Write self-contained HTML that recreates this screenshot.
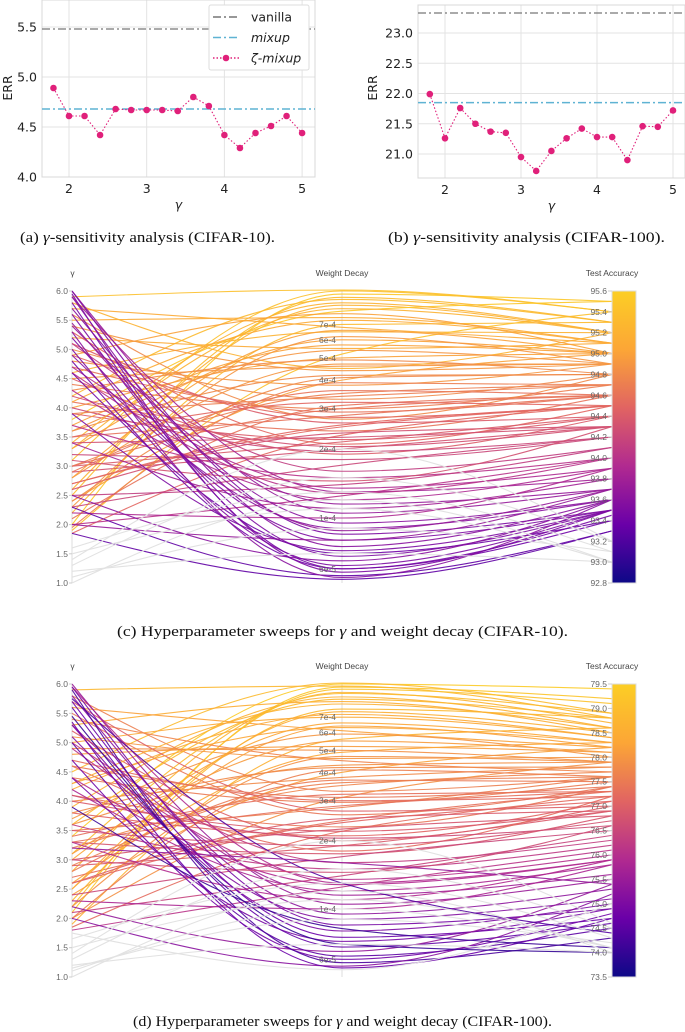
<!DOCTYPE html>
<html><head><meta charset="utf-8"><style>
body{margin:0;background:#fff;}
svg{display:block;}
.tk{font-family:"DejaVu Sans",sans-serif;font-size:12.5px;fill:#222;}
.cap{font-family:"Liberation Serif",serif;font-size:14.5px;fill:#111;}
.pl{font-family:"Liberation Sans",sans-serif;font-size:8.5px;fill:#666;}
.pt{font-family:"Liberation Sans",sans-serif;font-size:8.5px;fill:#444;}
</style></head><body>
<svg id="fig" width="685" height="1032" viewBox="0 0 685 1032" xmlns="http://www.w3.org/2000/svg">
<text class="cap" x="20" y="242" textLength="255" lengthAdjust="spacingAndGlyphs">(a) <tspan font-style="italic">γ</tspan>-sensitivity analysis (CIFAR-10).</text>
<text class="cap" x="388" y="242" textLength="277" lengthAdjust="spacingAndGlyphs">(b) <tspan font-style="italic">γ</tspan>-sensitivity analysis (CIFAR-100).</text>
<text class="cap" x="117" y="636" textLength="451" lengthAdjust="spacingAndGlyphs">(c) Hyperparameter sweeps for <tspan font-style="italic">γ</tspan> and weight decay (CIFAR-10).</text>
<text class="cap" x="133" y="1026" textLength="419" lengthAdjust="spacingAndGlyphs">(d) Hyperparameter sweeps for <tspan font-style="italic">γ</tspan> and weight decay (CIFAR-100).</text>
</svg>
<script>
// ---------- data: top charts ----------
const gammas=[1.8,2.0,2.2,2.4,2.6,2.8,3.0,3.2,3.4,3.6,3.8,4.0,4.2,4.4,4.6,4.8,5.0];
const errA=[4.89,4.61,4.61,4.42,4.68,4.67,4.67,4.67,4.66,4.80,4.71,4.42,4.29,4.44,4.51,4.61,4.44];
const vanillaA=5.48, mixupA=4.68;
const yTicksA=[4.0,4.5,5.0,5.5];
const errB=[21.99,21.26,21.76,21.50,21.37,21.35,20.95,20.72,21.05,21.26,21.42,21.28,21.28,20.90,21.46,21.45,21.72];
const vanillaB=23.33, mixupB=21.85;
const yTicksB=[21.0,21.5,22.0,22.5,23.0];
const xTicks=[2,3,4,5];

// ---------- data: parallel coords (c) [gamma, weight decay x1e-4, accuracy] ----------
const gammaC=[2.0,3.1,4.2,5.9,2.6,3.8,5.5,2.2,4.6,3.3,5.2,1.9,4.0,2.8,5.8,3.6,2.4,4.8,3.0,5.0,2.1,4.4,3.5,5.6,2.7,4.1,1.85,3.9,5.3,2.9,4.5,3.2,
2.5,3.4,4.9,5.7,2.3,3.7,4.3,5.4,1.95,2.9,3.5,4.7,5.1,2.6,3.0,4.0,
3.3,4.1,2.8,3.6,4.5,2.4,3.9,3.0,4.9,2.7,3.4,4.2,
2.3,5.1,3.7,2.5,4.7,5.9,2.0,4.3,5.4,3.4,6.0,2.2,3.1,4.6,
5.7,4.9,6.0,5.2,5.9,4.6,5.6,2.5,5.0,4.8,5.95,2.3,5.3,1.85,2.0,3.9,5.8,5.45,
1.0,1.1,1.3,1.5,1.2,1.6,1.4];
const wdC=[9.5,9.8,9.0,9.9,8.5,8.0,7.5,7.0,6.5,6.0,5.5,5.2,5.0,4.7,4.5,4.2,4.0,3.8,3.5,3.3,3.1,3.0,2.8,2.7,2.5,2.4,2.3,2.2,2.1,2.0,1.9,1.8,
9.2,8.7,7.8,6.8,6.2,5.7,4.9,4.4,3.9,3.6,3.2,2.9,2.6,2.35,2.15,1.95,
8.2,7.3,6.6,5.4,4.6,4.1,3.4,3.0,2.75,2.55,2.25,2.05,
1.7,1.6,1.5,1.4,1.35,1.3,1.25,1.2,1.15,1.1,1.05,1.0,1.45,1.28,
0.95,0.9,0.85,0.8,0.75,0.7,0.68,0.65,0.62,0.6,0.58,0.56,0.55,0.54,0.8,0.72,0.6,0.88,
1.2,0.9,1.5,1.1,0.7,1.3,2.0];
const accC=[95.5,95.4,95.3,95.4,95.2,95.5,95.1,95.3,95.2,95.0,95.1,95.4,95.0,94.9,95.2,94.8,95.0,94.9,94.7,94.8,94.6,94.7,94.6,94.8,94.5,94.6,94.5,94.4,94.5,94.3,94.4,94.2,
95.3,95.2,95.0,95.1,94.9,95.0,94.8,94.9,94.7,94.6,94.5,94.6,94.4,94.3,94.4,94.2,
95.2,95.1,95.0,94.9,94.9,94.8,94.7,94.6,94.5,94.5,94.3,94.3,
94.2,94.1,94.0,94.1,93.9,93.8,94.0,93.9,93.7,93.8,93.7,93.9,94.3,94.0,
93.6,93.6,93.5,93.5,93.6,93.4,93.5,93.6,93.5,93.4,93.5,93.3,93.6,93.3,93.7,93.5,93.45,93.7,
93.0,93.1,93.2,93.0,93.0,93.1,93.2];
const accTicksC=[92.8,93.0,93.2,93.4,93.6,93.8,94.0,94.2,94.4,94.6,94.8,95.0,95.2,95.4,95.6];

// ---------- data: parallel coords (d) ----------
const gammaD=[3.4,2.1,4.5,5.9,2.8,3.9,5.3,2.3,4.2,3.0,5.6,1.9,4.8,2.6,5.1,3.6,2.4,4.0,3.2,5.8,2.0,4.4,3.5,5.5,2.7,4.1,1.85,3.8,5.2,2.9,4.6,3.3,
2.2,3.1,4.3,5.0,2.5,3.7,4.9,5.4,2.0,2.8,3.4,4.7,5.7,2.6,3.0,4.1,
3.6,2.5,4.3,3.1,2.2,3.8,2.9,4.6,3.3,2.6,4.0,3.5,
2.4,5.0,3.6,2.1,4.9,5.95,1.8,4.2,5.3,3.3,6.0,2.3,3.0,4.4,
5.8,5.1,5.95,5.3,5.7,4.4,5.6,2.2,5.0,4.7,5.9,2.0,5.35,1.75,3.9,5.45,5.75,3.2,
1.0,1.15,1.3,1.5,1.2,1.65,1.4,1.1];
const wdD=[9.8,9.5,9.9,9.6,9.0,8.6,8.2,7.6,7.2,6.6,6.1,5.6,5.2,4.9,4.6,4.3,4.0,3.8,3.5,3.3,3.1,2.95,2.8,2.6,2.45,2.3,2.2,2.1,2.0,1.9,1.8,1.75,
9.3,8.9,8.0,7.0,6.4,5.9,5.0,4.5,4.1,3.7,3.2,3.0,2.7,2.5,2.25,2.05,
8.4,7.4,6.3,5.5,4.7,4.2,3.6,3.1,2.85,2.4,2.2,1.9,
1.7,1.6,1.5,1.4,1.35,1.3,1.25,1.2,1.15,1.1,1.05,1.0,1.45,1.28,
0.95,0.9,0.85,0.8,0.75,0.72,0.68,0.65,0.62,0.6,0.58,0.56,0.55,0.54,0.82,0.7,1.3,1.6,
1.2,0.9,1.5,1.1,0.7,1.3,2.0,1.0];
const accD=[79.4,79.2,78.9,78.8,78.7,78.6,78.5,78.8,78.4,78.3,78.2,78.6,78.1,78.3,78.0,77.9,78.2,77.8,77.7,77.6,77.9,77.5,77.6,77.4,77.3,77.4,77.2,77.1,77.0,76.9,77.2,76.8,
79.1,78.9,78.6,78.4,78.2,78.0,77.9,77.7,77.6,77.5,77.3,77.2,77.0,76.9,76.8,76.6,
78.8,78.5,78.3,78.1,77.9,77.8,77.6,77.4,77.3,77.1,76.9,76.7,
76.5,76.3,76.2,76.4,76.0,75.9,76.1,75.8,75.6,75.9,75.5,75.8,76.6,75.9,
75.3,75.1,74.9,75.0,74.7,74.9,74.6,75.4,74.5,74.8,74.3,75.2,74.7,75.0,74.1,74.0,74.4,75.4,
74.0,74.2,74.5,74.1,74.0,74.3,74.6,74.1];
const accTicksD=[73.5,74.0,74.5,75.0,75.5,76.0,76.5,77.0,77.5,78.0,78.5,79.0,79.5];

const gTicks=[1.0,1.5,2.0,2.5,3.0,3.5,4.0,4.5,5.0,5.5,6.0];
const wdTicks=[7,6,5,4,3,2,1,0.6];
const wdLabels=["7e-4","6e-4","5e-4","4e-4","3e-4","2e-4","1e-4","6e-5"];

const NS="http://www.w3.org/2000/svg";
const svg=document.getElementById('fig');
function mk(tag,attrs,parent){const e=document.createElementNS(NS,tag);for(const k in attrs)e.setAttribute(k,attrs[k]);(parent||svg).appendChild(e);return e;}

function lineChart(cfg){
  const g=mk('g',{});
  
  
  const X=v=>cfg.x0+(v-2)*cfg.xs, Y=v=>cfg.yRef+(cfg.vRef-v)*cfg.ys;
  cfg.yTicks.forEach(t=>{const l=mk('line',{x1:cfg.L,x2:cfg.R,y1:Y(t),y2:Y(t),stroke:'#e3e3e3','stroke-width':1},g);
    
    const tx=mk('text',{x:cfg.L-5,y:Y(t)+4.5,'text-anchor':'end',class:'tk'},g);tx.textContent=t.toFixed(1);
    });
  xTicks.forEach(t=>{const l=mk('line',{x1:X(t),x2:X(t),y1:cfg.T,y2:cfg.B,stroke:'#e3e3e3','stroke-width':1},g);
    
    const tx=mk('text',{x:X(t),y:cfg.B+16,'text-anchor':'middle',class:'tk'},g);tx.textContent=t;
    });
  const fr=mk('rect',{x:cfg.L,y:cfg.T,width:cfg.R-cfg.L,height:cfg.B-cfg.T,fill:'none',stroke:'#d8d8d8'},g);
  
  const v=mk('line',{x1:cfg.L,x2:cfg.R,y1:Y(cfg.van),y2:Y(cfg.van),stroke:'#777','stroke-width':1.2,'stroke-dasharray':'8,3,2,3'},g);
  
  const m=mk('line',{x1:cfg.L,x2:cfg.R,y1:Y(cfg.mix),y2:Y(cfg.mix),stroke:'#5fb3d3','stroke-width':1.5,'stroke-dasharray':'8,3,2,3'},g);
  
  const p=mk('polyline',{points:gammas.map((x,i)=>X(x)+','+Y(cfg.err[i])).join(' '),fill:'none',stroke:'#e0207a','stroke-width':1.1,'stroke-dasharray':'1.5,2'},g);
  
  gammas.forEach((x,i)=>{const c=mk('circle',{cx:X(x),cy:Y(cfg.err[i]),r:3.3,fill:'#e0207a'},g);
    });
  const yl=mk('text',{x:0,y:0,class:'tk','text-anchor':'middle',transform:`translate(${cfg.ylx},${cfg.yly}) rotate(-90)`},g);yl.textContent='ERR';
  
  const xl=mk('text',{x:(cfg.L+cfg.R)/2,y:cfg.B+32,class:'tk','text-anchor':'middle','font-style':'italic','font-size':'14'},g);xl.textContent='γ';
  
  return g;
}
lineChart({name:'chart-a',L:42,R:315,T:0,B:177,x0:69,xs:77.7,yRef:177,vRef:4.0,ys:100,yTicks:yTicksA,err:errA,van:vanillaA,mix:mixupA,ylx:12,yly:88});
lineChart({name:'chart-b',L:418,R:685,T:5,B:178,x0:445,xs:76,yRef:154,vRef:21.0,ys:60.5,yTicks:yTicksB,err:errB,van:vanillaB,mix:mixupB,ylx:377,yly:88});

(function(){
  const g=mk('g',{});
  mk('rect',{x:209,y:5,width:100,height:65,fill:'#fff',stroke:'#ddd',rx:2},g);
  const items=[['vanilla','#777','8,3,2,3',false,false],['mixup','#5fb3d3','8,3,2,3',false,true],['ζ-mixup','#e0207a','1.5,2',true,true]];
  items.forEach((it,i)=>{const y=17+i*20.5;
    const l=mk('line',{x1:213,x2:239,y1:y,y2:y,stroke:it[1],'stroke-width':1.4,'stroke-dasharray':it[2]},g);
    
    if(it[3]){mk('circle',{cx:226,cy:y,r:3.3,fill:it[1]},g);}
    const t=mk('text',{x:251,y:y+4.5,class:'tk','font-style':it[4]?'italic':'normal'},g);t.textContent=it[0];
    });
})();

const stops=[[0,[13,8,135]],[0.2,[106,0,168]],[0.4,[177,42,144]],[0.6,[225,100,98]],[0.8,[252,166,54]],[1,[252,206,37]]];
function plasma(t){t=Math.max(0,Math.min(1,t));for(let i=1;i<stops.length;i++){if(t<=stops[i][0]){const a=stops[i-1],b=stops[i],f=(t-a[0])/(b[0]-a[0]);
  return `rgb(${a[1].map((v,k)=>Math.round(v+(b[1][k]-v)*f)).join(',')})`;}}return 'rgb(252,206,37)';}

function parcoords(cfg){
  const g=mk('g',{});
  const xa=72,xb=342,xc=612,T=cfg.T,B=cfg.B;
  const YG=v=>B-(v-1)/5*(B-T);
  const YW=v=>cfg.y1e4-Math.log10(v)*cfg.dec;
  const YA=v=>B-(v-cfg.amin)/(cfg.amax-cfg.amin)*(B-T);
  const ax1=mk('line',{x1:xa,x2:xa,y1:T,y2:B,stroke:'#ddd'},g);
  const ax2=mk('line',{x1:xb,x2:xb,y1:T,y2:B,stroke:'#ddd'},g);
  const h=xb-xa;
  const n=cfg.gam.length;
  for(let i=0;i<n;i++){
    const y0=YG(cfg.gam[i]),y1=YW(cfg.wd[i]),y2=YA(cfg.acc[i]);
    const d1=(y1-y0)/h,d2=(y2-y1)/h;
    const m1=(d1*d2<=0)?0:2*d1*d2/(d1+d2);
    const m0=(3*d1-m1)/2,m2=(3*d2-m1)/2;
    const d=`M${xa},${y0} C${xa+h/3},${y0+m0*h/3} ${xb-h/3},${y1-m1*h/3} ${xb},${y1} C${xb+h/3},${y1+m1*h/3} ${xc-h/3},${y2-m2*h/3} ${xc},${y2}`;
    const gray=cfg.gam[i]<1.8;
    const p=mk('path',{d:d,fill:'none',stroke:gray?'#e2e2e2':plasma((cfg.acc[i]-cfg.amin)/(cfg.amax-cfg.amin)),'stroke-width':1.1,opacity:gray?1:0.9},g);
    
    
  }
  gTicks.forEach(t=>{const tx=mk('text',{x:xa-4,y:YG(t)+3,'text-anchor':'end',class:'pl'},g);tx.textContent=t.toFixed(1);
    
    mk('line',{x1:xa-3,x2:xa,y1:YG(t),y2:YG(t),stroke:'#ccc'},g);});
  wdTicks.forEach((t,i)=>{const tx=mk('text',{x:xb-6,y:YW(t)+3,'text-anchor':'end',class:'pl'},g);tx.textContent=wdLabels[i];
    });
  const gid='cb'+cfg.name;
  const lg=mk('linearGradient',{id:gid,x1:0,y1:1,x2:0,y2:0},g);
  stops.forEach(s=>mk('stop',{offset:s[0],'stop-color':plasma(s[0])},lg));
  const cb=mk('rect',{x:xc,y:T,width:24,height:B-T,fill:`url(#${gid})`,stroke:'#ddd'},g);
  
  cfg.ticks.forEach(t=>{const tx=mk('text',{x:xc-5,y:YA(t)+3,'text-anchor':'end',class:'pl'},g);tx.textContent=t.toFixed(1);
    
    mk('line',{x1:xc-4,x2:xc,y1:YA(t),y2:YA(t),stroke:'#ccc'},g);});
  [['γ',xa+0.5,'gamma-axis-title'],['Weight Decay',xb,'weight-decay-axis-title'],['Test Accuracy',xc,'accuracy-axis-title']].forEach(a=>{
    const tx=mk('text',{x:a[1],y:T-15,'text-anchor':'middle',class:'pt'},g);tx.textContent=a[0];
    });
}
parcoords({name:'chart-c',T:291,B:583,y1e4:518,dec:229,amin:92.8,amax:95.6,gam:gammaC,wd:wdC,acc:accC,ticks:accTicksC});
parcoords({name:'chart-d',T:684,B:977,y1e4:909,dec:227,amin:73.5,amax:79.5,gam:gammaD,wd:wdD,acc:accD,ticks:accTicksD});
</script>
</body></html>
